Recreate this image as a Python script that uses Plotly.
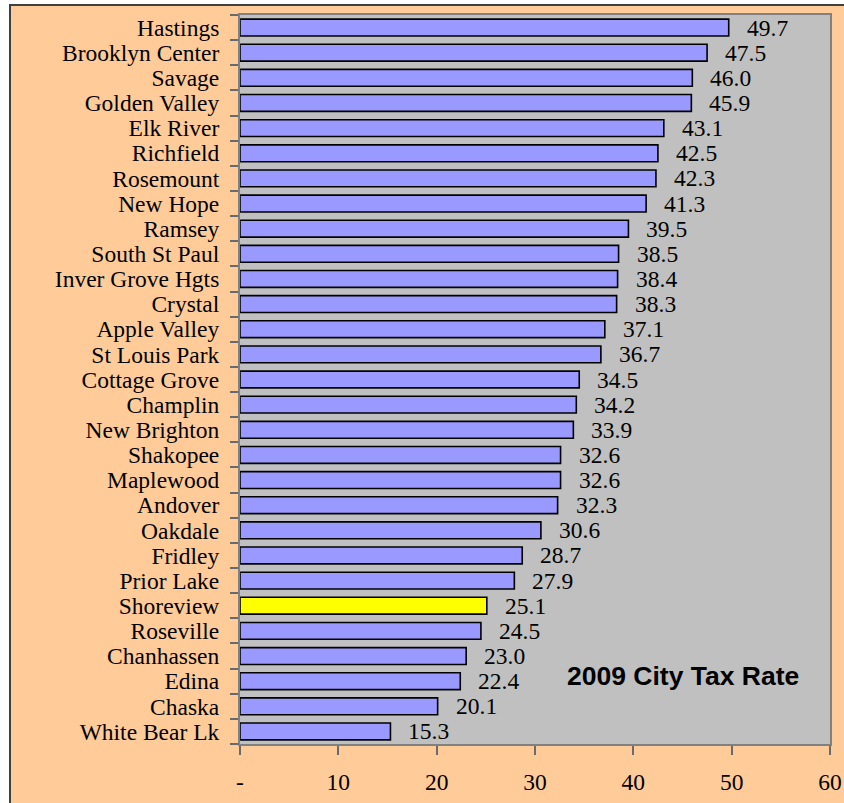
import plotly.graph_objects as go

# Data (top to bottom as shown)
cities = ["Hastings", "Brooklyn Center", "Savage", "Golden Valley", "Elk River", "Richfield",
          "Rosemount", "New Hope", "Ramsey", "South St Paul", "Inver Grove Hgts", "Crystal",
          "Apple Valley", "St Louis Park", "Cottage Grove", "Champlin", "New Brighton",
          "Shakopee", "Maplewood", "Andover", "Oakdale", "Fridley", "Prior Lake",
          "Shoreview", "Roseville", "Chanhassen", "Edina", "Chaska", "White Bear Lk"]
tax_rate = [49.7, 47.5, 46.0, 45.9, 43.1, 42.5, 42.3, 41.3, 39.5, 38.5, 38.4, 38.3,
            37.1, 36.7, 34.5, 34.2, 33.9, 32.6, 32.6, 32.3, 30.6, 28.7, 27.9,
            25.1, 24.5, 23.0, 22.4, 20.1, 15.3]
highlight_city = "Shoreview"
x_tick_vals = [0, 10, 20, 30, 40, 50, 60]
x_tick_text = ["-", "10", "20", "30", "40", "50", "60"]
chart_label = "2009 City Tax Rate"

# plot order bottom->top
cats = cities[::-1]
vals = tax_rate[::-1]
colors = ["#FFFF00" if c == highlight_city else "#9999FF" for c in cats]

W, H = 844, 803
L, R, T, B = 240, 14, 15, 59
pw, ph = W - L - R, H - T - B


def px_x(p):
    return (p - L) / pw


def px_y(p):
    return (H - B - p) / ph


fig = go.Figure()
fig.add_trace(go.Bar(
    x=vals, y=cats, orientation="h",
    marker=dict(color=colors, line=dict(color="black", width=1.6)),
    hoverinfo="skip",
))

serif = "Liberation Serif, Times New Roman, serif"

annotations = []
for c, v in zip(cats, vals):
    annotations.append(dict(
        x=v, y=c, xref="x", yref="y", text=f"{v:.1f}", showarrow=False,
        xanchor="left", yanchor="middle", xshift=16,
        font=dict(family=serif, size=23.5, color="black"),
    ))
annotations.append(dict(
    x=px_x(683), y=px_y(676), xref="paper", yref="paper", text=f"<b>{chart_label}</b>",
    showarrow=False, xanchor="center", yanchor="middle",
    font=dict(family="Liberation Sans, Arial, sans-serif", size=26.5, color="black"),
))

shapes = [
    # white strips outside the outer border
    dict(type="rect", xref="paper", yref="paper", x0=px_x(-50), x1=px_x(9), y0=px_y(900), y1=px_y(-50),
         fillcolor="white", line=dict(width=0), layer="above"),
    dict(type="rect", xref="paper", yref="paper", x0=px_x(-50), x1=px_x(900), y0=px_y(4), y1=px_y(-50),
         fillcolor="white", line=dict(width=0), layer="above"),
    # outer border
    dict(type="rect", xref="paper", yref="paper", x0=px_x(10), x1=px_x(900), y0=px_y(900), y1=px_y(5),
         fillcolor="rgba(0,0,0,0)", line=dict(color="#404040", width=2), layer="above"),
]

fig.update_layout(
    width=W, height=H,
    margin=dict(l=L, r=R, t=T, b=B, pad=0, autoexpand=False),
    paper_bgcolor="#FFCC99",
    plot_bgcolor="#C0C0C0",
    showlegend=False,
    bargap=0.33,
    annotations=annotations,
    shapes=shapes,
    xaxis=dict(
        range=[0, 60], tickmode="array", tickvals=x_tick_vals, ticktext=x_tick_text,
        showgrid=False, zeroline=False, showline=True, linecolor="#808080", linewidth=2,
        mirror=True, ticks="outside", ticklen=9, tickwidth=2, tickcolor="#6a6a6a",
        ticklabelstandoff=7, automargin=False,
        tickfont=dict(family=serif, size=23.5, color="black"),
        fixedrange=True,
    ),
    yaxis=dict(
        type="category", categoryorder="array", categoryarray=cats,
        tickmode="array", tickvals=cats, ticktext=cats,
        range=[-0.5, len(cats) - 0.5],
        showgrid=False, zeroline=False, showline=True, linecolor="#808080", linewidth=2,
        mirror=True, ticks="outside", ticklen=8, tickwidth=2, tickcolor="#6a6a6a",
        tickson="boundaries", ticklabelstandoff=14, automargin=False,
        tickfont=dict(family=serif, size=23.5, color="black"),
        fixedrange=True,
    ),
)

fig.write_html(
    "out.html",
    config={"displayModeBar": False},
    post_script="document.body.style.margin='0';document.body.style.overflow='hidden';",
)
